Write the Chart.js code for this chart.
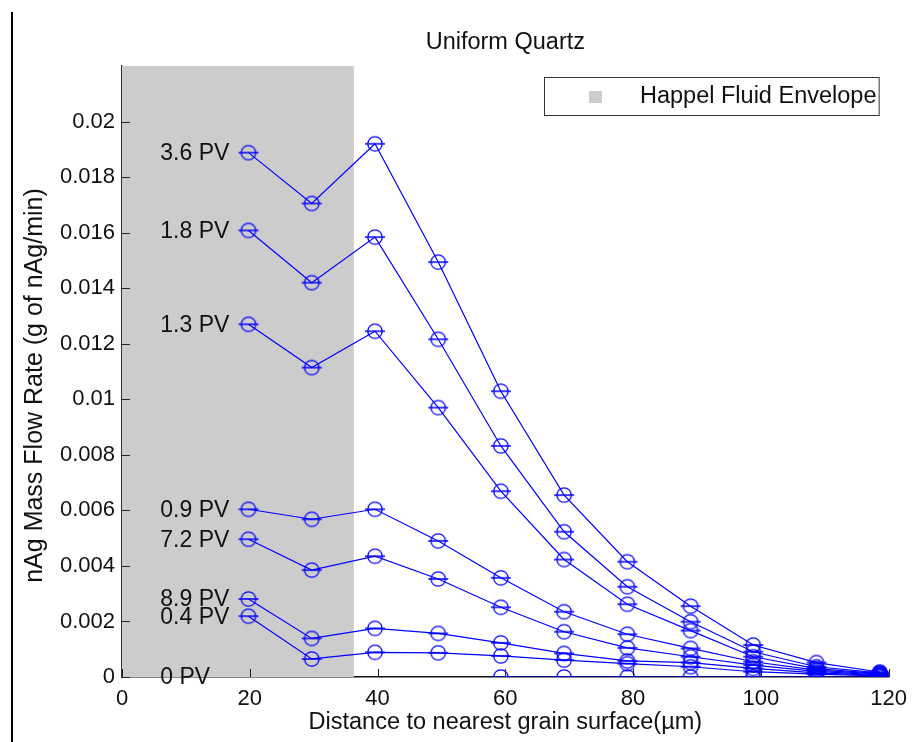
<!DOCTYPE html>
<html><head><meta charset="utf-8">
<script src="https://cdn.jsdelivr.net/npm/chart.js@4.4.0/dist/chart.umd.min.js"></script>
<style>html,body{margin:0;padding:0;background:#fff;overflow:hidden;} #wrap{width:916px;height:742px;position:relative;}</style>
</head><body><div id="wrap"><canvas id="c" width="916" height="742"></canvas></div>
<script>
// ---- data ----
const X_POS = [19.8, 29.7, 39.6, 49.5, 59.3, 69.2, 79.1, 89.0, 98.8, 108.7, 118.6];
const SERIES_LABELS = ['3.6 PV', '1.8 PV', '1.3 PV', '0.9 PV', '7.2 PV', '8.9 PV', '0.4 PV', '0 PV'];
const pv36 = [0.01888, 0.01705, 0.0192, 0.01494, 0.01029, 0.00655, 0.00415, 0.00255, 0.00115, 0.00052, 0.00018];
const pv18 = [0.01608, 0.0142, 0.01584, 0.01216, 0.00832, 0.00523, 0.00325, 0.00199, 0.00091, 0.00037, 0.00015];
const pv13 = [0.0127, 0.01114, 0.01245, 0.0097, 0.00669, 0.00423, 0.00262, 0.00167, 0.00073, 0.0003, 0.00012];
const pv09 = [0.00604, 0.00568, 0.00604, 0.0049, 0.00357, 0.00235, 0.00154, 0.00103, 0.00055, 0.00025, 0.0001];
const pv72 = [0.00496, 0.00385, 0.00435, 0.00353, 0.00251, 0.00163, 0.00105, 0.00073, 0.00043, 0.0002, 0.00008];
const pv89 = [0.00281, 0.00139, 0.00175, 0.00157, 0.00123, 0.00085, 0.00058, 0.00052, 0.00031, 0.00015, 0.00006];
const pv04 = [0.00219, 0.00065, 0.00089, 0.00087, 0.00076, 0.00061, 0.00048, 0.00037, 0.00019, 0.0001, 0.00004];
const pv00 = [null, null, null, null, 0, 0, 0, 0, 0, 0, 0];
const SERIES_VALUES = [pv36, pv18, pv13, pv09, pv72, pv89, pv04, pv00];
const Y_TICKS = [0, 0.002, 0.004, 0.006, 0.008, 0.01, 0.012, 0.014, 0.016, 0.018, 0.02];
const X_TICKS = [0, 20, 40, 60, 80, 100, 120];
const ENVELOPE_X = [0, 36.3];
const ENVELOPE_TOP = 0.022;
const LEGEND_LABEL = 'Happel Fluid Envelope';
const TITLE = 'Uniform Quartz';
const X_TITLE = 'Distance to nearest grain surface(\u00b5m)';
const Y_TITLE = 'nAg Mass Flow Rate (g of nAg/min)';
const LABEL_X = 6;

// ---- styles ----
const FONT = '"Liberation Sans", Arial, Helvetica, sans-serif';
const BLUE = '#0000ff';
const GRAY = '#cccccc';
const TXT = '#111111';

// marker: open circle with horizontal error-bar dash
function makeMarker() {
  const c = document.createElement('canvas');
  c.width = 22; c.height = 18;
  const g = c.getContext('2d');
  g.strokeStyle = BLUE;
  g.lineWidth = 1.3;
  g.beginPath(); g.arc(11, 9, 7.2, 0, Math.PI * 2); g.stroke();
  g.lineWidth = 1.5;
  g.beginPath(); g.moveTo(1, 9); g.lineTo(21, 9); g.stroke();
  return c;
}
const MARKER = makeMarker();

const datasets = [{
  label: LEGEND_LABEL,
  data: ENVELOPE_X.map(x => ({x: x, y: ENVELOPE_TOP})),
  borderWidth: 0,
  borderColor: 'rgba(0,0,0,0)',
  backgroundColor: GRAY,
  fill: 'origin',
  pointRadius: 0,
  order: 5
}];
SERIES_LABELS.forEach((lab, i) => {
  datasets.push({
    label: lab,
    data: X_POS.map((x, j) => ({x: x, y: SERIES_VALUES[i][j]})),
    borderColor: BLUE,
    borderWidth: 1.2,
    backgroundColor: BLUE,
    pointStyle: MARKER,
    pointRadius: 7,
    fill: false,
    tension: 0,
    order: 1
  });
});

const decor = {
  id: 'decor',
  beforeDraw(chart) {
    const ctx = chart.ctx;
    ctx.save();
    ctx.fillStyle = '#fff';
    ctx.fillRect(0, 0, chart.width, chart.height);
    ctx.fillStyle = '#000';
    ctx.fillRect(11, 12, 2, chart.height - 12);
    ctx.restore();
  },
  afterDraw(chart) {
    const ctx = chart.ctx;
    const xs = chart.scales.x, ys = chart.scales.y;
    const a = chart.chartArea;
    ctx.save();
    // inward ticks
    ctx.strokeStyle = '#222';
    ctx.lineWidth = 1;
    X_TICKS.forEach(v => {
      const px = Math.round(xs.getPixelForValue(v)) + 0.5;
      ctx.beginPath(); ctx.moveTo(px, a.bottom); ctx.lineTo(px, a.bottom - 8); ctx.stroke();
    });
    Y_TICKS.forEach(v => {
      const py = Math.round(ys.getPixelForValue(v)) + 0.5;
      ctx.beginPath(); ctx.moveTo(a.left, py); ctx.lineTo(a.left + 8, py); ctx.stroke();
    });
    // series labels
    ctx.fillStyle = TXT;
    ctx.font = '23px ' + FONT;
    ctx.textAlign = 'left';
    ctx.textBaseline = 'middle';
    SERIES_LABELS.forEach((lab, i) => {
      const first = SERIES_VALUES[i].find(v => v !== null);
      const yv = first === undefined ? 0 : first;
      ctx.fillText(lab, xs.getPixelForValue(LABEL_X), ys.getPixelForValue(yv) + 1);
    });
    // y-axis title
    ctx.save();
    ctx.translate(35, (a.top + a.bottom) / 2 + 14);
    ctx.rotate(-Math.PI / 2);
    ctx.textAlign = 'center';
    ctx.textBaseline = 'middle';
    ctx.font = '25px ' + FONT;
    ctx.fillText(Y_TITLE, 0, 0);
    ctx.restore();
    // legend box
    const bx1 = a.right - 10, by0 = a.top + 11;
    const bx0 = 544, by1 = by0 + 38;
    ctx.fillStyle = '#fff';
    ctx.fillRect(bx0, by0, bx1 - bx0, by1 - by0);
    ctx.strokeStyle = '#333';
    ctx.lineWidth = 1;
    ctx.strokeRect(bx0 + 0.5, by0 + 0.5, bx1 - bx0, by1 - by0);
    ctx.fillStyle = GRAY;
    ctx.fillRect(589, by0 + 14, 13, 12);
    ctx.fillStyle = TXT;
    ctx.textAlign = 'left';
    ctx.font = '23.5px ' + FONT;
    ctx.fillText(LEGEND_LABEL, 640, by0 + 20);
    ctx.restore();
  }
};

new Chart(document.getElementById('c'), {
  type: 'line',
  data: {datasets: datasets},
  options: {
    responsive: false,
    devicePixelRatio: 1,
    animation: false,
    layout: {padding: {top: 0, right: 23, left: 0, bottom: 0}},
    plugins: {
      legend: {display: false},
      tooltip: {enabled: false},
      title: {
        display: true, text: TITLE, fullSize: false, color: TXT,
        font: {family: FONT, size: 23.5, weight: 'normal', lineHeight: 1.2},
        padding: {top: 28, bottom: 9.8}
      }
    },
    scales: {
      x: {
        type: 'linear', min: 0, max: 120, z: 1,
        afterBuildTicks: s => { s.ticks = X_TICKS.map(v => ({value: v})); },
        afterFit: s => { s.height = 65; },
        grid: {display: true, drawOnChartArea: false, drawTicks: false},
        border: {display: true, color: '#111', width: 1.5},
        ticks: {color: TXT, font: {family: FONT, size: 22}, padding: 9, maxRotation: 0,
                callback: v => String(v)},
        title: {display: true, text: X_TITLE, color: TXT,
                font: {family: FONT, size: 23.5, lineHeight: 1.2}, padding: {bottom: 5, top: 0}}
      },
      y: {
        type: 'linear', min: 0, max: ENVELOPE_TOP, z: 1,
        afterBuildTicks: s => { s.ticks = Y_TICKS.map(v => ({value: v})); },
        afterFit: s => { s.width = 122; },
        grid: {display: true, drawOnChartArea: false, drawTicks: false},
        border: {display: true, color: '#333', width: 1.5},
        ticks: {color: TXT, font: {family: FONT, size: 22}, padding: 7,
                callback: v => String(+Number(v).toFixed(4))},
        title: {display: false, text: Y_TITLE}
      }
    }
  },
  plugins: [decor]
});
</script>
</body></html>
